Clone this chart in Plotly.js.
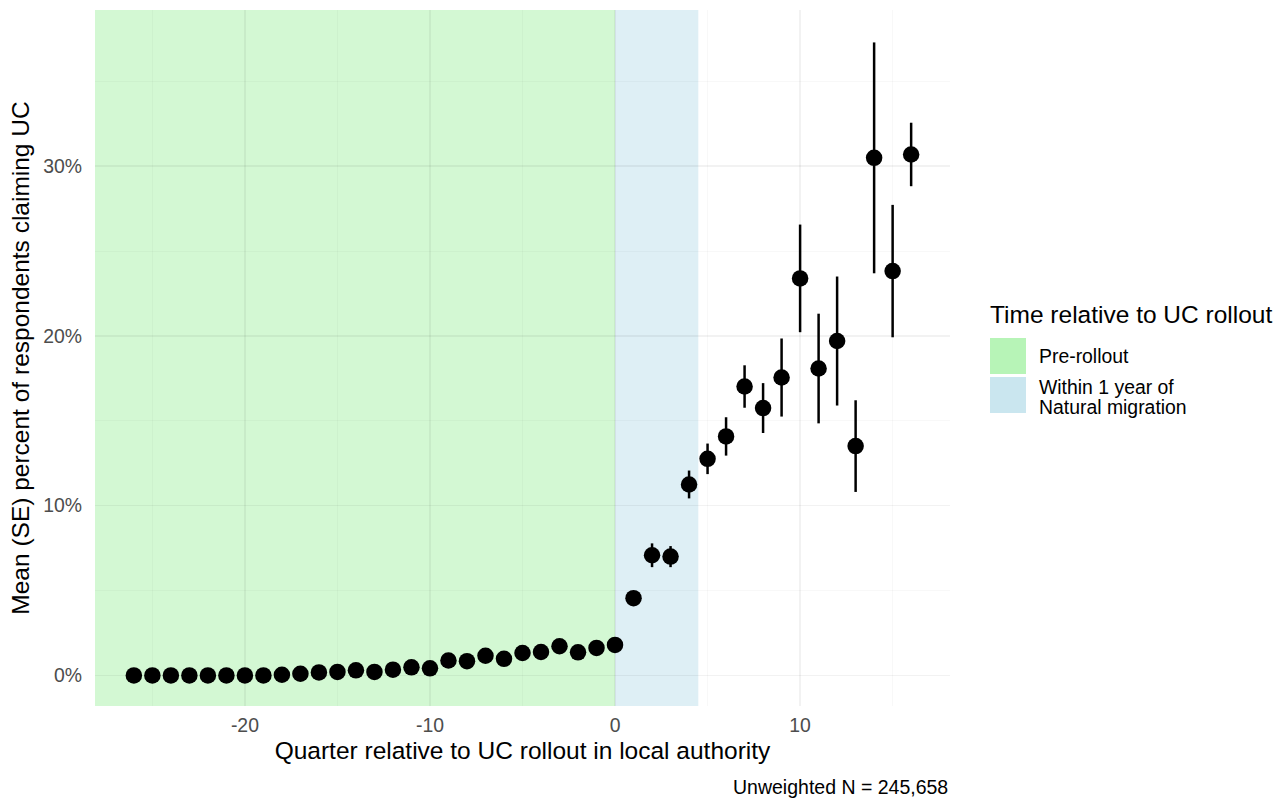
<!DOCTYPE html>
<html>
<head>
<meta charset="utf-8">
<script src="https://cdn.plot.ly/plotly-3.0.1.min.js"></script>
<style>html,body{margin:0;padding:0;background:#fff;}#chart{width:1283px;height:798px;}</style>
</head>
<body>
<div id="chart"></div>
<script>
// ---- data ----
const quarters = [-26,-25,-24,-23,-22,-21,-20,-19,-18,-17,-16,-15,-14,-13,-12,-11,-10,-9,-8,-7,-6,-5,-4,-3,-2,-1,0,
                  1,2,3,4,5,6,7,8,9,10,11,12,13,14,15,16];
const meanPct = [0.0,0.0,0.0,0.0,0.0,0.0,0.0,0.0,0.04,0.1,0.18,0.21,0.3,0.21,0.34,0.48,0.42,0.88,0.84,1.16,0.98,1.32,1.38,1.72,1.36,1.62,1.8,
                 4.55,7.08,7.0,11.25,12.76,14.08,17.02,15.75,17.55,23.39,18.08,19.7,13.51,30.49,23.82,30.69];
const sePct = [0.01,0.01,0.01,0.01,0.01,0.01,0.01,0.02,0.02,0.03,0.04,0.04,0.05,0.05,0.06,0.07,0.07,0.09,0.09,0.1,0.1,0.11,0.12,0.13,0.12,0.13,0.15,
               0.3,0.7,0.62,0.82,0.9,1.13,1.25,1.47,2.3,3.17,3.23,3.8,2.7,6.8,3.9,1.87];
const periodLabels = ["Pre-rollout", "Within 1 year of<br>Natural migration"];
const periodStart = [null, 0];     // null = extends to left edge of panel
const periodEnd = [0, 4.5];
const periodFill = ["rgba(144,238,144,0.4)", "rgba(173,216,230,0.4)"];
const periodKey = ["rgba(144,238,144,0.65)", "rgba(173,216,230,0.65)"];
const xTicks = [-20,-10,0,10];
const xMinor = [-25,-15,-5,5,15];
const yTicks = [0,10,20,30];
const yMinor = [5,15,25,35];
const yTickText = ["0%","10%","20%","30%"];

// ---- layout geometry ----
const W = 1283, H = 798;
const L = 95, R = 950, T = 10, B = 706;
const xRange = [-28.1, 18.1];
const yRange = [-1.8, 39.2];
const px2x = p => (p - L) / (R - L);
const py2y = p => (B - p) / (B - T);
const FONT = "Liberation Sans, Arial, sans-serif";
const GRID = "rgba(0,0,0,0.05)";
const GRIDMINOR = "rgba(0,0,0,0.03)";

const shapes = [];
periodLabels.forEach((lab, i) => {
  shapes.push({type:"rect", xref:"x", yref:"paper", layer:"below",
    x0: periodStart[i] === null ? xRange[0] : periodStart[i], x1: periodEnd[i],
    y0:0, y1:1, fillcolor: periodFill[i], line:{width:0}});
});
// legend keys
const keyTop = [338, 377];
periodLabels.forEach((lab, i) => {
  shapes.push({type:"rect", xref:"paper", yref:"paper", layer:"above",
    x0: px2x(990), x1: px2x(1026), y0: py2y(keyTop[i] + 36), y1: py2y(keyTop[i]),
    fillcolor: periodKey[i], line:{width:0}});
});

const annotations = [
  {text:"Time relative to UC rollout", xref:"paper", yref:"paper", x:px2x(988), y:py2y(314),
   xanchor:"left", yanchor:"middle", showarrow:false, font:{family:FONT, size:24.5, color:"#000"}}
];
const labelLineY = [[356], [387, 407]];
periodLabels.forEach((lab, i) => {
  lab.split("<br>").forEach((line, j) => {
    annotations.push({text:line, xref:"paper", yref:"paper", x:px2x(1037), y:py2y(labelLineY[i][j]),
      xanchor:"left", yanchor:"middle", showarrow:false, font:{family:FONT, size:19.4, color:"#000"}});
  });
});
annotations.push({text:"Unweighted N = 245,658", xref:"paper", yref:"paper", x:1, y:py2y(787),
   xanchor:"right", yanchor:"middle", showarrow:false, font:{family:FONT, size:19.5, color:"#000"}});

const trace = {
  x: quarters, y: meanPct, type:"scatter", mode:"markers",
  marker:{color:"#000", size:16.5},
  error_y:{type:"data", array:sePct, visible:true, color:"#000", thickness:2.5, width:0},
  showlegend:false, hoverinfo:"x+y"
};

const layout = {
  width:W, height:H,
  margin:{l:L, r:W-R, t:T, b:H-B, pad:0},
  paper_bgcolor:"#fff", plot_bgcolor:"rgba(255,255,255,0)",
  font:{family:FONT},
  showlegend:false,
  xaxis:{range:xRange, tickvals:xTicks, ticktext:xTicks.map(String), showgrid:true, gridcolor:GRID, gridwidth:1.6,
    minor:{tickvals:xMinor, showgrid:true, gridcolor:GRIDMINOR, gridwidth:0.9, ticks:""},
    zeroline:false, showline:false, ticks:"", ticklen:0, ticklabelstandoff:6,
    tickfont:{family:FONT, size:19.4, color:"#4D4D4D"},
    title:{text:"Quarter relative to UC rollout in local authority", font:{family:FONT, size:24.5, color:"#000"}, standoff:6}},
  yaxis:{range:yRange, tickvals:yTicks, ticktext:yTickText, showgrid:true, gridcolor:GRID, gridwidth:1.6,
    minor:{tickvals:yMinor, showgrid:true, gridcolor:GRIDMINOR, gridwidth:0.9, ticks:""},
    zeroline:false, showline:false, ticks:"", ticklen:0, ticklabelstandoff:12,
    tickfont:{family:FONT, size:19.4, color:"#4D4D4D"},
    title:{text:"Mean (SE) percent of respondents claiming UC", font:{family:FONT, size:24.5, color:"#000"}, standoff:6}},
  shapes:shapes,
  annotations:annotations
};

Plotly.newPlot("chart", [trace], layout, {staticPlot:true, displayModeBar:false});
</script>
</body>
</html>
